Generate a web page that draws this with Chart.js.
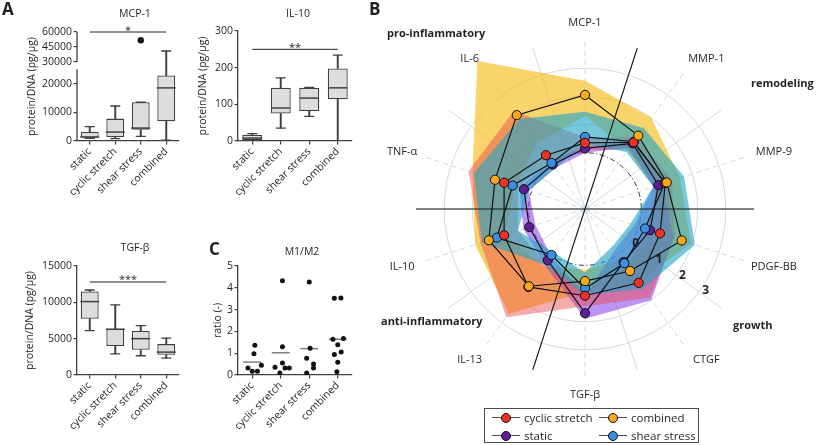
<!DOCTYPE html>
<html>
<head>
<meta charset="utf-8">
<title>Cytokine secretion</title>
<script src="https://cdn.jsdelivr.net/npm/chart.js@4.4.0/dist/chart.umd.min.js"></script>
<style>
  body { margin: 0; background: #fff; }
  #fig { position: relative; width: 817px; height: 445px; overflow: hidden; font-family: 'Open Sans', sans-serif; color: #231f20; }
  #fig canvas { position: absolute; }
  .t { position: absolute; white-space: nowrap; line-height: 1; }
  .c { transform: translate(-50%, -50%); }
  .m { transform: translateY(-50%); }
  .panel { font-size: 17px; font-weight: 700; }
  .ttl { font-size: 10.5px; }
  .grp { font-size: 11px; font-weight: 700; }
  #leg { position: absolute; left: 484px; top: 408px; width: 213px; height: 33px; border: 1.3px solid #4d4d4d; }
  #leg .it { position: absolute; height: 17px; display: flex; align-items: center; font-size: 11.5px; }
  #leg .mk { position: relative; width: 28px; height: 17px; margin-right: 4px; }
  #leg .mk::before { content: ''; position: absolute; left: 0; right: 0; top: 8px; height: 1.3px; background: #4d4d4d; }
  #leg .mk b { position: absolute; left: 9px; top: 3.5px; width: 8px; height: 8px; border: 1px solid #111; border-radius: 50%; }
</style>
</head>
<body>
<div id="fig">
  <canvas id="cMcp" width="190" height="215" style="left:0;top:0"></canvas>
  <canvas id="cIl10" width="190" height="215" style="left:190px;top:0"></canvas>
  <canvas id="cTgf" width="190" height="225" style="left:0;top:220px"></canvas>
  <canvas id="cM12" width="190" height="225" style="left:190px;top:220px"></canvas>
  <canvas id="cRadar" width="437" height="445" style="left:380px;top:0"></canvas>

  <div class="t panel" style="left:2px;top:0">A</div>
  <div class="t panel" style="left:369px;top:0">B</div>
  <div class="t panel" style="left:209px;top:240px">C</div>

  <div class="t ttl c" style="left:135px;top:13px">MCP-1</div>
  <div class="t ttl c" style="left:298px;top:13px">IL-10</div>
  <div class="t ttl c" style="left:135px;top:247px">TGF-β</div>
  <div class="t ttl c" style="left:302px;top:251px">M1/M2</div>

  <div class="t grp m" style="left:387px;top:32px">pro-inflammatory</div>
  <div class="t grp m" style="left:751px;top:82px">remodeling</div>
  <div class="t grp m" style="left:381px;top:320px">anti-inflammatory</div>
  <div class="t grp m" style="left:733px;top:324px">growth</div>

  <div id="leg">
    <div class="it" style="left:7px;top:0"><span class="mk"><b style="background:#ee3124"></b></span>cyclic stretch</div>
    <div class="it" style="left:114px;top:0"><span class="mk"><b style="background:#f7a81b"></b></span>combined</div>
    <div class="it" style="left:7px;top:18px"><span class="mk"><b style="background:#5e1f96"></b></span>static</div>
    <div class="it" style="left:114px;top:18px"><span class="mk"><b style="background:#3b8fe3"></b></span>shear stress</div>
  </div>
</div>

<script>
/* ============================================================
   DATA
============================================================ */
const groups = ['static', 'cyclic stretch', 'shear stress', 'combined'];

// A – MCP-1, protein/DNA (pg/µg): whisker ends, quartiles, median
const mcpMin = [900, 800, 1600, 300];
const mcpQ1 = [1100, 1400, 3900, 6900];
const mcpMed = [1400, 3100, 4500, 18500];
const mcpQ3 = [3200, 7800, 13500, 22800];
const mcpMax = [5000, 12200, 13500, 41000];
const mcpOutliers = [null, null, 51700, null];
const mcpTicks = [0, 10000, 20000, 30000, 45000, 60000];
const mcpSig = 60000;

// A – IL-10
const il10Min = [0, 35, 67, 0];
const il10Q1 = [2, 75, 82, 114];
const il10Med = [8, 90, 117, 145];
const il10Q3 = [17, 145, 145, 198];
const il10Max = [20, 172, 146, 234];
const il10Sig = 250;

// A – TGF-β
const tgfMin = [6100, 2900, 2650, 2330];
const tgfQ1 = [7750, 4000, 3470, 2780];
const tgfMed = [10100, 6300, 5000, 3150];
const tgfQ3 = [11500, 6350, 6050, 4250];
const tgfMax = [11700, 9650, 6800, 5070];
const tgfSig = 12800;

// C – M1/M2 ratio, individual samples (+ horizontal jitter in category units) and means
const m1m2Values = [
  [1.36, 0.97, 0.32, 0.17, 0.17, 0.45],
  [4.32, 1.30, 0.55, 0.35, 0.09, 0.32, 0.32],
  [4.27, 1.23, 0.77, 0.50, 0.32, 0.09],
  [3.52, 3.53, 1.64, 1.68, 1.39, 0.94, 1.06, 0.58, 0.15]
];
const m1m2Jitter = [
  [0.09, 0.06, -0.15, 0.0, 0.18, 0.32],
  [0.06, 0.06, 0.06, -0.2, -0.03, 0.15, 0.3],
  [0.0, 0.03, -0.09, 0.15, 0.15, -0.09],
  [-0.12, 0.11, -0.17, 0.2, 0.0, -0.12, 0.12, 0.0, -0.03]
];
const m1m2Mean = [0.59, 1.02, 1.21, 1.64];

// B – radar, mean and band limits per condition
const radarLabels = ['MCP-1', 'MMP-1', 'MMP-9', 'PDGF-BB', 'CTGF', 'TGF-β', 'IL-13', 'IL-10', 'TNF-α', 'IL-6'];
const radarTicks = [0, 1, 2, 3];
const radarDividers = [0.5, 2.5];
const cyclicMean   = [0.35, 0.93, 1.00, 0.80, 1.24, 1.08, 1.42, 1.02, 1.02, 0.36];
const combinedMean = [2.05, 1.22, 1.05, 1.61, 0.72, 0.56, 1.39, 1.59, 1.36, 2.12];
const staticMean   = [0.15, 0.88, 0.74, 0.43, 0.33, 1.70, 0.25, 0.08, 0.28, -0.05];
const shearMean    = [0.56, 0.95, 0.98, 0.24, 0.38, 0.82, 0.02, 1.29, 0.70, 0.02];
const cyclicHi   = [0.55, 1.15, 1.25, 1.35, 1.90, 1.45, 2.75, 1.90, 2.35, 2.30];
const cyclicLo   = [0.10, 0.60, 0.70, 0.30, 0.60, 0.75, 0.40, 0.50, 0.50, 0.10];
const combinedHi = [2.55, 2.00, 1.55, 1.95, 1.20, 0.95, 2.60, 2.10, 2.20, 4.50];
const combinedLo = [1.30, 0.60, 0.55, 0.90, 0.20, 0.15, 0.50, 1.00, 0.60, 0.90];
const staticHi   = [0.25, 0.95, 0.90, 1.30, 2.00, 1.90, 0.45, 0.30, 0.45, 0.10];
const staticLo   = [0.00, 0.70, 0.55, -0.15, -0.20, 1.10, 0.05, -0.15, 0.10, -0.20];
const shearHi    = [1.45, 1.55, 1.70, 2.10, 1.50, 1.05, 0.45, 1.85, 2.15, 1.95];
const shearLo    = [0.30, 0.50, 0.55, -0.30, -0.35, 0.25, -0.10, 0.50, 0.10, -0.20];

/* ============================================================
   COMMON
============================================================ */
const AXIS = '#404040';
const BOX = '#dcdede';
const GRID = '#cfdbe1';
const FONT = "'Open Sans', sans-serif";

Chart.defaults.font.family = FONT;
Chart.defaults.font.size = 10.5;
Chart.defaults.color = '#231f20';
Chart.defaults.animation = false;
Chart.defaults.events = [];
Chart.defaults.plugins.legend.display = false;
Chart.defaults.plugins.tooltip.enabled = false;

// MCP-1 y axis is broken: 0-25000 linear, 30000-60000 compressed
const mcpBreak = [25000, 30000];
function mcpAxis(v) {
  if (v == null) return null;
  if (v <= mcpBreak[0]) return v;
  return mcpBreak[0] + 2530 + (v - mcpBreak[1]) * 0.348;
}

// significance bar between first and last group
const sigPlugin = {
  id: 'sig',
  afterDatasetsDraw(chart, args, o) {
    if (!o.text) return;
    const { ctx, scales: { x, y } } = chart;
    const yy = y.getPixelForValue(o.value);
    const x0 = x.getPixelForValue(0), x1 = x.getPixelForValue(3);
    ctx.save();
    ctx.strokeStyle = '#231f20';
    ctx.lineWidth = 1;
    ctx.beginPath(); ctx.moveTo(x0, yy); ctx.lineTo(x1, yy); ctx.stroke();
    ctx.fillStyle = '#231f20';
    ctx.font = "11px " + FONT;
    ctx.textAlign = 'center';
    ctx.textBaseline = 'alphabetic';
    ctx.fillText(o.text, (x0 + x1) / 2, yy + 1.5);
    ctx.restore();
  }
};

const brokenAxis = {
  id: 'brokenAxis',
  afterDraw(chart, args, o) {
    const { ctx, chartArea, scales: { y } } = chart;
    ctx.save();
    ctx.strokeStyle = AXIS;
    ctx.lineWidth = 1.3;
    o.segments.forEach(([a, b]) => {
      ctx.beginPath();
      ctx.moveTo(chartArea.left, y.getPixelForValue(a));
      ctx.lineTo(chartArea.left, y.getPixelForValue(b));
      ctx.stroke();
    });
    ctx.restore();
  }
};

const xAxis = h => ({
  type: 'category',
  offset: true,
  ticks: { minRotation: 45, maxRotation: 45, autoSkip: false, padding: 1 },
  grid: { drawOnChartArea: false, offset: false, tickLength: 3.5, color: AXIS, lineWidth: 1.2 },
  border: { color: AXIS, width: 1.3 },
  afterFit: s => { s.height = h; }
});

const yAxis = o => ({
  min: 0,
  max: o.max,
  ticks: { stepSize: o.step, padding: 1.5, callback: v => v },
  grid: { drawOnChartArea: false, tickLength: 3.5, color: AXIS, lineWidth: 1.2 },
  border: { color: AXIS, width: 1.3 },
  title: { display: true, text: o.title, padding: { top: o.titlePad, bottom: 0 } },
  afterFit: s => { s.width = o.width; }
});

function boxPlot(id, o) {
  const m = o.map || (v => v);
  const cap = (arr, r, w, order) => ({
    type: 'line', data: arr.map(m), showLine: false, pointStyle: 'line',
    pointRadius: r, pointBorderColor: AXIS, pointBorderWidth: w, order
  });
  const datasets = [
    cap(o.med, 9.5, 1.5, 0),
    cap(o.min, 5, 1.3, 1),
    cap(o.max, 5, 1.3, 1),
    { type: 'bar', data: o.q1.map((v, i) => [m(v), m(o.q3[i])]), backgroundColor: BOX, borderColor: AXIS,
      borderWidth: 1.3, borderSkipped: false, grouped: false, barPercentage: 0.7, categoryPercentage: 1, order: 2 },
    { type: 'bar', data: o.min.map((v, i) => [m(v), m(o.q1[i])]), backgroundColor: AXIS, barThickness: 1.3, grouped: false, order: 3 },
    { type: 'bar', data: o.max.map((v, i) => [m(o.q3[i]), m(v)]), backgroundColor: AXIS, barThickness: 1.3, grouped: false, order: 3 }
  ];
  if (o.outliers) {
    datasets.push({ type: 'line', data: o.outliers.map(m), showLine: false, pointRadius: 3.2,
      pointBackgroundColor: '#111', pointBorderWidth: 0, order: 0 });
  }
  const y = yAxis(o.y);
  if (o.yExtra) Object.assign(y, o.yExtra(y));
  return new Chart(document.getElementById(id), {
    type: 'bar',
    data: { labels: groups, datasets },
    options: {
      responsive: false,
      layout: { padding: o.pad },
      plugins: { sig: { value: m(o.sig), text: o.stars }, brokenAxis: o.broken || {} },
      scales: { x: xAxis(o.xHeight), y }
    },
    plugins: o.broken ? [sigPlugin, brokenAxis] : [sigPlugin]
  });
}

/* ============================================================
   PANEL A
============================================================ */
boxPlot('cMcp', {
  min: mcpMin, q1: mcpQ1, med: mcpMed, q3: mcpQ3, max: mcpMax, outliers: mcpOutliers,
  map: mcpAxis, sig: mcpSig, stars: '*',
  pad: { left: 0, right: 5, top: 32, bottom: 0 }, xHeight: 74,
  y: { max: mcpAxis(60000), step: 10000, title: 'protein/DNA (pg/µg)', titlePad: 26, width: 77 },
  yExtra: y => ({
    afterBuildTicks: s => { s.ticks = mcpTicks.map(v => ({ value: mcpAxis(v) })); },
    ticks: Object.assign({}, y.ticks, { callback: (v, i) => mcpTicks[i] }),
    border: { display: false }
  }),
  broken: { segments: [[mcpAxis(0), mcpAxis(mcpBreak[0])], [mcpAxis(mcpBreak[1]), mcpAxis(60000)]] }
});

boxPlot('cIl10', {
  min: il10Min, q1: il10Q1, med: il10Med, q3: il10Q3, max: il10Max,
  sig: il10Sig, stars: '**',
  pad: { left: 0, right: 28, top: 31, bottom: 0 }, xHeight: 74,
  y: { max: 300, step: 100, title: 'protein/DNA (pg/µg)', titlePad: 7, width: 48 }
});

boxPlot('cTgf', {
  min: tgfMin, q1: tgfQ1, med: tgfMed, q3: tgfQ3, max: tgfMax,
  sig: tgfSig, stars: '***',
  pad: { left: 0, right: 5, top: 46, bottom: 0 }, xHeight: 70,
  y: { max: 15000, step: 5000, title: 'protein/DNA (pg/µg)', titlePad: 24, width: 77 }
});

/* ============================================================
   PANEL C
============================================================ */
new Chart(document.getElementById('cM12'), {
  type: 'scatter',
  data: {
    datasets: [
      { data: m1m2Values.flatMap((vals, g) => vals.map((v, k) => ({ x: g + m1m2Jitter[g][k], y: v }))),
        pointRadius: 2.5, pointBackgroundColor: '#111', pointBorderWidth: 0, order: 0 },
      { data: m1m2Mean.map((v, g) => ({ x: g, y: v })), pointStyle: 'line', pointRadius: 9,
        pointBorderColor: '#808080', pointBorderWidth: 1.5, order: 1 }
    ]
  },
  options: {
    responsive: false,
    layout: { padding: { left: 0, right: 28, top: 46, bottom: 0 } },
    scales: {
      x: {
        type: 'linear', min: -0.5, max: 3.5,
        afterBuildTicks: s => { s.ticks = groups.map((g, i) => ({ value: i })); },
        ticks: { callback: v => groups[v], minRotation: 45, maxRotation: 45, autoSkip: false, padding: 1 },
        grid: { drawOnChartArea: false, tickLength: 3.5, color: AXIS, lineWidth: 1.2 },
        border: { color: AXIS, width: 1.3 },
        afterFit: s => { s.height = 70; }
      },
      y: yAxis({ max: 5, step: 1, title: 'ratio (-)', titlePad: 22, width: 48 })
    }
  }
});

/* ============================================================
   PANEL B – RADAR
============================================================ */
const radarSeries = {
  combined: { mean: combinedMean, hi: combinedHi, lo: combinedLo, dot: '#f7a81b', band: 'rgba(245,192,35,0.68)' },
  cyclic: { mean: cyclicMean, hi: cyclicHi, lo: cyclicLo, dot: '#ee3124', band: 'rgba(236,72,72,0.45)' },
  shear: { mean: shearMean, hi: shearHi, lo: shearLo, dot: '#3b8fe3', band: 'rgba(35,165,200,0.62)' },
  static: { mean: staticMean, hi: staticHi, lo: staticLo, dot: '#5e1f96', band: 'rgba(140,70,235,0.58)' }
};
const markerOrder = ['combined', 'cyclic', 'shear', 'static']; // first = drawn on top
const bandOrder = ['shear', 'cyclic', 'static', 'combined'];

const radarSets = markerOrder.map(k => {
  const s = radarSeries[k];
  return { data: s.mean, fill: false, borderColor: '#111', borderWidth: 1.2,
    pointRadius: 4.6, pointBackgroundColor: s.dot, pointBorderColor: '#111', pointBorderWidth: 1 };
});
bandOrder.forEach(k => {
  const s = radarSeries[k];
  radarSets.push({ data: s.hi, fill: '+1', backgroundColor: s.band, borderColor: 'transparent', borderWidth: 0, pointRadius: 0 });
  radarSets.push({ data: s.lo, fill: false, borderColor: 'transparent', borderWidth: 0, pointRadius: 0 });
});

const radarDeco = {
  id: 'radarDeco',
  beforeDraw(chart) {
    // solid spokes between the labelled (dashed) ones
    const s = chart.scales.r, ctx = chart.ctx;
    ctx.save();
    ctx.strokeStyle = GRID;
    ctx.lineWidth = 1;
    for (let i = 0; i < radarLabels.length; i++) {
      const p = s.getPointPosition(i + 0.5, s.drawingArea);
      ctx.beginPath(); ctx.moveTo(s.xCenter, s.yCenter); ctx.lineTo(p.x, p.y); ctx.stroke();
    }
    ctx.restore();
  },
  beforeDatasetsDraw(chart) {
    // black lines splitting the four groups
    const s = chart.scales.r, ctx = chart.ctx, n = radarLabels.length;
    ctx.save();
    ctx.strokeStyle = '#1a1a1a';
    ctx.lineWidth = 1.1;
    radarDividers.forEach(k => {
      const a = s.getPointPosition(k, s.drawingArea), b = s.getPointPosition(k + n / 2, s.drawingArea);
      ctx.beginPath(); ctx.moveTo(a.x, a.y); ctx.lineTo(b.x, b.y); ctx.stroke();
    });
    ctx.restore();
  },
  afterDatasetsDraw(chart) {
    const s = chart.scales.r, ctx = chart.ctx;
    ctx.save();
    ctx.fillStyle = '#231f20';
    ctx.textBaseline = 'middle';
    ctx.textAlign = 'center';
    ctx.font = "11px " + FONT;
    radarLabels.forEach((lab, i) => {
      const p = s.getPointPosition(i, s.drawingArea + 17);
      const dx = p.x - s.xCenter;
      const shift = Math.abs(dx) < 1 ? 0 : (dx > 0 ? 12 : -6);
      ctx.fillText(lab, p.x + shift, p.y);
    });
    ctx.font = "bold 12px " + FONT;
    radarTicks.forEach(v => {
      const p = s.getPointPosition(3.45, s.getDistanceFromCenterForValue(v) + 5);
      ctx.fillText(String(v), p.x, p.y);
    });
    ctx.restore();
  }
};

new Chart(document.getElementById('cRadar'), {
  type: 'radar',
  data: { labels: radarLabels, datasets: radarSets },
  options: {
    responsive: false,
    layout: { padding: { left: 36, right: 63, top: 40, bottom: 67 } },
    elements: { line: { tension: 0 } },
    plugins: { filler: { drawTime: 'beforeDatasetsDraw', propagate: false } },
    scales: {
      r: {
        min: -2, max: 4,
        ticks: { display: false, stepSize: 1 },
        pointLabels: { display: false },
        grid: {
          circular: true, lineWidth: 1,
          color: c => {
            if (!c.tick) return 'transparent';
            if (c.tick.value === 0) return '#333';
            return c.tick.value > 0 && c.tick.value < 4 ? GRID : 'transparent';
          }
        },
        border: { dash: c => (c.tick && c.tick.value === 0 ? [5, 2.5, 1.2, 2.5] : []) },
        angleLines: { color: GRID, lineWidth: 1, borderDash: [5, 4] }
      }
    }
  },
  plugins: [radarDeco]
});
</script>
</body>
</html>
